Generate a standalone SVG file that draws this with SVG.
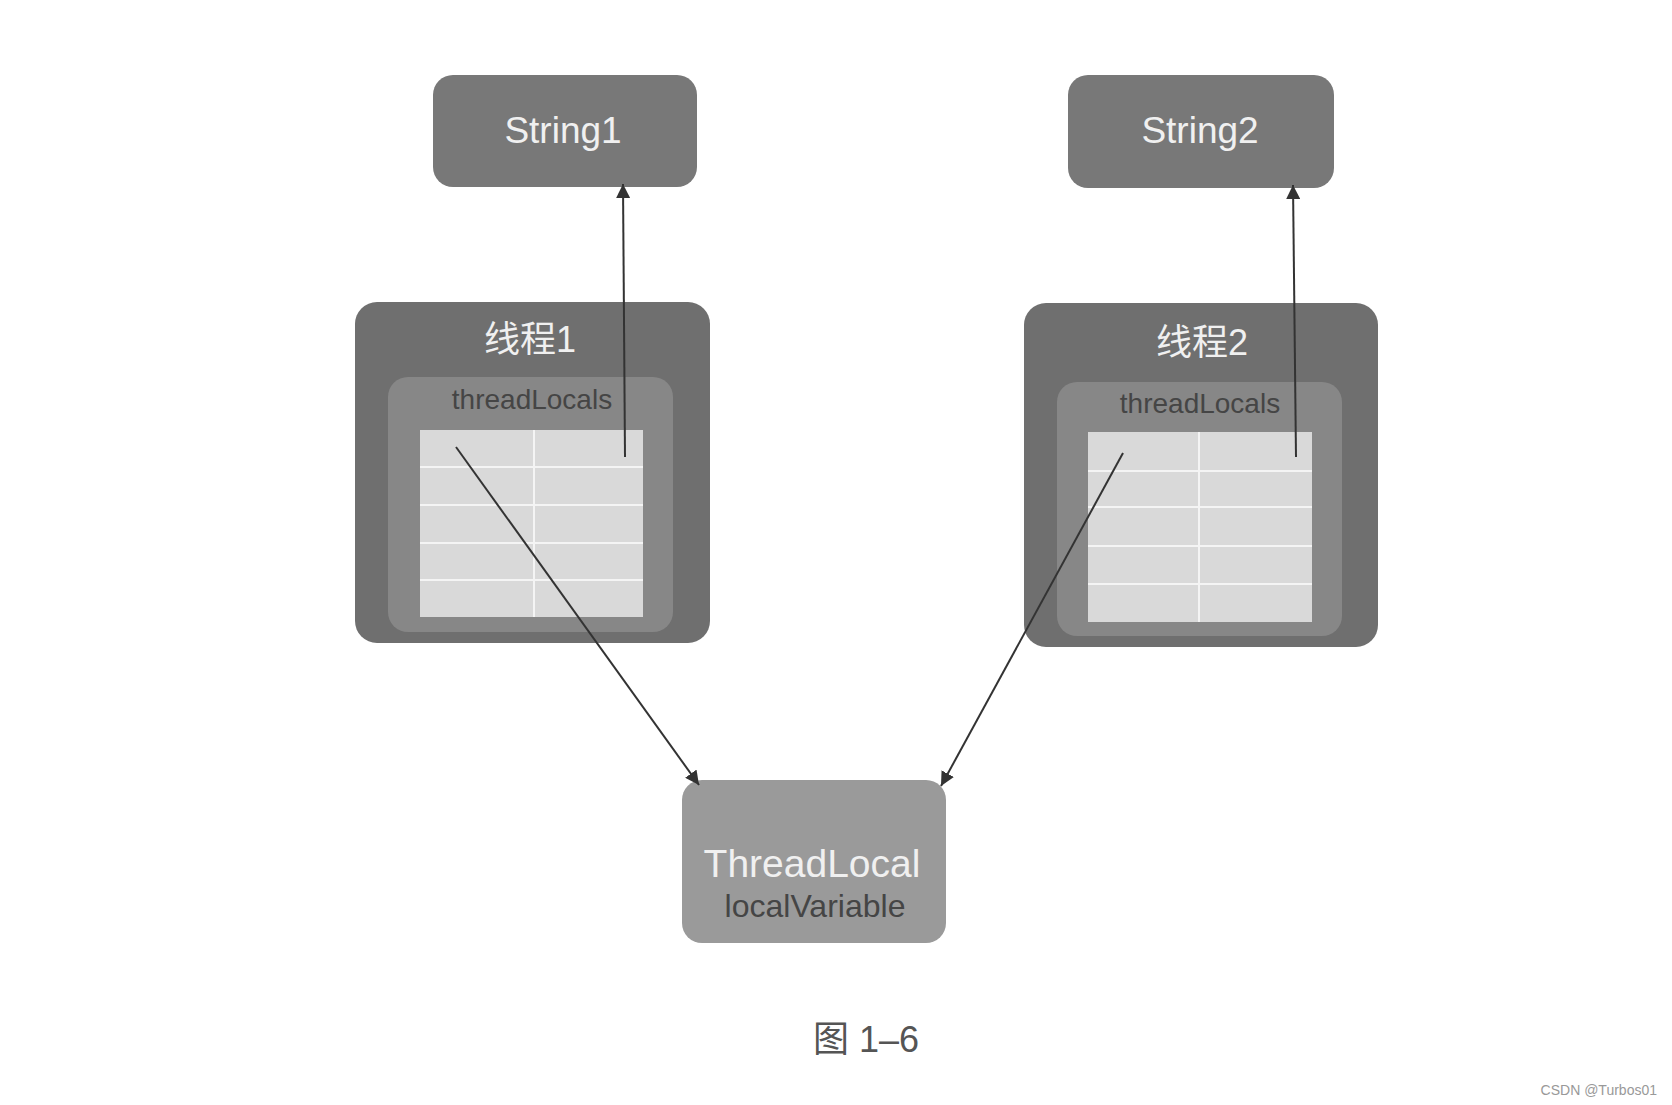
<svg xmlns="http://www.w3.org/2000/svg" width="1672" height="1105" viewBox="0 0 1672 1105">
<defs>
<style>
.t{font-family:"Liberation Sans","Noto Sans CJK SC",sans-serif;text-anchor:middle}
.light{fill:#f0f0f0}
.dark{fill:#454545}
.outer{fill:#6f6f6f}
.inner{fill:#878787}
.str{fill:#787878}
.tl{fill:#9a9a9a}
.tbl{fill:#d9d9d9}
.grid{stroke:#f4f4f4;stroke-width:2;fill:none}
.conn{stroke:#333;stroke-width:2;fill:none}
</style>
<marker id="ah" viewBox="0 0 10 10" refX="10" refY="5" markerWidth="14" markerHeight="14" markerUnits="userSpaceOnUse" orient="auto">
<path d="M0,0 L10,5 L0,10 z" fill="#333"/>
</marker>
</defs>
<rect width="1672" height="1105" fill="#ffffff"/>

<g id="string1">
<rect class="str" x="433" y="75" width="264" height="112" rx="20"/>
<text class="t light" x="563" y="143" font-size="37">String1</text>
</g>

<g id="string2">
<rect class="str" x="1068" y="75" width="266" height="113" rx="20"/>
<text class="t light" x="1200" y="143" font-size="37">String2</text>
</g>

<g id="thread1">
<rect class="outer" x="355" y="302" width="355" height="341" rx="22"/>
<text class="t light" x="530" y="352" font-size="36">线程1</text>
<rect class="inner" x="388" y="377" width="285" height="255" rx="20"/>
<text class="t dark" x="532" y="409" font-size="28">threadLocals</text>
<rect class="tbl" x="420" y="430" width="223" height="187"/>
<path class="grid" d="M534,430 V617 M420,467 H643 M420,505 H643 M420,543 H643 M420,580 H643"/>
</g>

<g id="thread2">
<rect class="outer" x="1024" y="303" width="354" height="344" rx="22"/>
<text class="t light" x="1202" y="355" font-size="36">线程2</text>
<rect class="inner" x="1057" y="382" width="285" height="254" rx="20"/>
<text class="t dark" x="1200" y="413" font-size="28">threadLocals</text>
<rect class="tbl" x="1088" y="432" width="224" height="190"/>
<path class="grid" d="M1199,432 V622 M1088,471 H1312 M1088,507 H1312 M1088,546 H1312 M1088,584 H1312"/>
</g>

<g id="threadlocal">
<rect class="tl" x="682" y="780" width="264" height="163" rx="20"/>
<text class="t light" x="812" y="877" font-size="39">ThreadLocal</text>
<text class="t dark" x="815" y="917" font-size="32">localVariable</text>
</g>

<g id="connectors">
<line class="conn" x1="625" y1="457" x2="623" y2="184" marker-end="url(#ah)"/>
<line class="conn" x1="1296" y1="457" x2="1293" y2="185" marker-end="url(#ah)"/>
<line class="conn" x1="456" y1="447" x2="699" y2="785" marker-end="url(#ah)"/>
<line class="conn" x1="1123" y1="453" x2="941" y2="786" marker-end="url(#ah)"/>
</g>

<g id="caption">
<text class="t" x="866" y="1052" font-size="36" fill="#555">图 1–6</text>
</g>
<text x="1657" y="1095" font-size="14" fill="#999" text-anchor="end" font-family="Liberation Sans, sans-serif">CSDN @Turbos01</text>
</svg>
